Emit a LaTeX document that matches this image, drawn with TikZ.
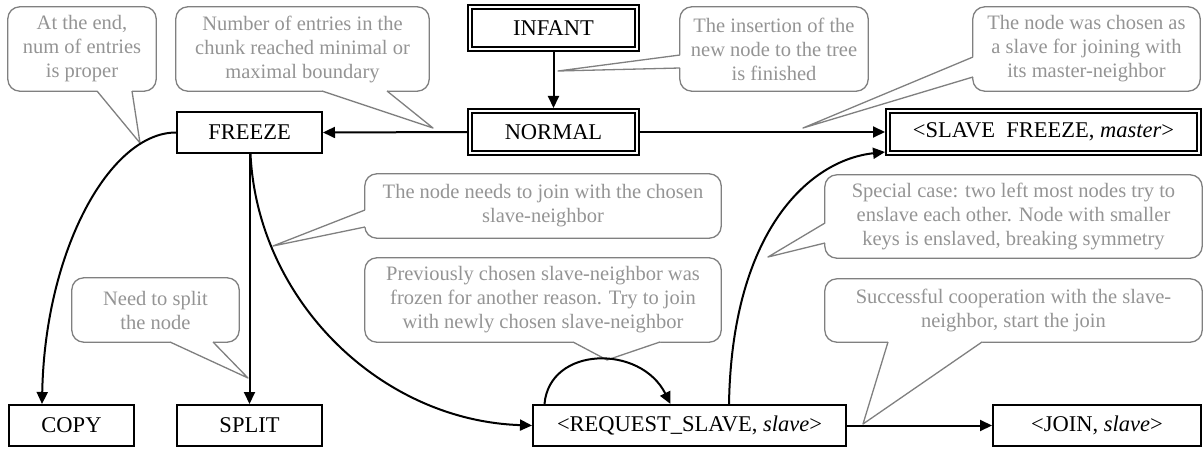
\documentclass[tikz,border=0pt]{standalone}
\usepackage{fontspec}
\setmainfont{Liberation Serif}
\usetikzlibrary{arrows.meta,calc}
\newcommand\wedgeptr[5]{%
  \fill[white] ($(#1)-(#4,#5)$) -- ($(#1)+(#4,#5)$) -- (#2) -- ($(#3)+(#4,#5)$) -- ($(#3)-(#4,#5)$) -- cycle;
  \draw[noteline] (#1) -- (#2) -- (#3);}
\begin{document}
\begin{tikzpicture}[x=1pt,y=-1pt,
  box/.style={draw, line width=2pt, inner sep=0pt, minimum height=41pt,
    font=\fontsize{22.5}{27}\selectfont},
  dbox/.style={box, double, double distance=2pt, line width=2pt, minimum height=42pt},
  arr/.style={-{Triangle[length=12pt,width=11pt]}, line width=2pt},
  note/.style={inner sep=0pt, text=black!42, align=center,
    font=\fontsize{20.5}{24}\selectfont},
  noteline/.style={draw=black!50, line width=1.3pt, line join=round},
  noterect/.style={noteline, rounded corners=12pt}]
\useasboundingbox (0,0) rectangle (1203,452);

% callouts
\node[note, minimum width=148pt, minimum height=84pt] (c1) at (82,49)
  {At the end,\\num of entries\\is proper};
\node[note, minimum width=253pt, minimum height=84pt] (c2) at (302.5,49)
  {Number of entries in the\\chunk reached minimal or\\maximal boundary};
\node[note, minimum width=188pt, minimum height=84pt] (c3) at (774,49)
  {The insertion of the\\new node to the tree\\is finished};
\node[note, minimum width=227pt, minimum height=84pt] (c4) at (1086.5,49)
  {The node was chosen as\\a slave for joining with\\its master-neighbor};
\node[note, minimum width=356pt, minimum height=64pt] (c5) at (543,206)
  {The node needs to join with the chosen\\slave-neighbor};
\node[note, minimum width=356pt, minimum height=84pt] (c6) at (543,300)
  {Previously chosen slave-neighbor was\\frozen for another reason. Try to join\\with newly chosen slave-neighbor};
\node[note, minimum width=167pt, minimum height=64pt] (c7) at (155.5,310)
  {Need to split\\the node};
\node[note, minimum width=377pt, minimum height=83pt] (c8) at (1013.5,216.5)
  {Special case: two left most nodes try to\\enslave each other. Node with smaller\\keys is enslaved, breaking symmetry};
\node[note, minimum width=377pt, minimum height=63pt] (c9) at (1013.5,310.5)
  {Successful cooperation with the slave-\\neighbor, start the join};

\foreach \c in {c1,c2,c3,c4,c5,c6,c7,c8,c9}
  \draw[noterect] (\c.north west) rectangle (\c.south east);

% pointer coordinates
\coordinate (a1) at (97,91);   \coordinate (t1) at (140,143); \coordinate (e1) at (132,91);
\coordinate (a2) at (322,91);  \coordinate (t2) at (433,128); \coordinate (e2) at (387,91);
\coordinate (a3) at (680,55);  \coordinate (t3) at (558,71);  \coordinate (e3) at (680,68);
\coordinate (a4) at (973,57);  \coordinate (t4) at (803,128); \coordinate (e4) at (973,77);
\coordinate (a5) at (365,210); \coordinate (t5) at (273,246); \coordinate (e5) at (365,227);
\coordinate (a6) at (573,342); \coordinate (t6) at (607,360); \coordinate (e6) at (660,342);
\coordinate (a7) at (170,342); \coordinate (t7) at (248,378); \coordinate (e7) at (213,342);
\coordinate (a8) at (825,223); \coordinate (t8) at (768,257); \coordinate (e8) at (825,243);
\coordinate (a9) at (888,342); \coordinate (t9) at (863,424); \coordinate (e9) at (982,342);

\wedgeptr{a1}{t1}{e1}{0}{2}
\wedgeptr{a2}{t2}{e2}{0}{2}
\wedgeptr{a3}{t3}{e3}{-2}{0}
\wedgeptr{a4}{t4}{e4}{-2}{0}
\wedgeptr{a5}{t5}{e5}{-2}{0}
\wedgeptr{a6}{t6}{e6}{0}{2}
\wedgeptr{a7}{t7}{e7}{0}{2}
\wedgeptr{a8}{t8}{e8}{-2}{0}
\wedgeptr{a9}{t9}{e9}{0}{2}

% state boxes
\node[dbox, minimum width=167pt] (infant) at (553.5,28) {INFANT};
\node[dbox, minimum width=167pt] (normal) at (553.5,132) {NORMAL};
\node[dbox, minimum width=311pt] (slavefreeze) at (1043.5,132) {<SLAVE\ \ FREEZE, \textit{master}>};
\node[box, minimum width=145pt] (freeze) at (249.5,132.5) {FREEZE};
\node[box, minimum width=125pt] (copy) at (71.5,425.5) {COPY};
\node[box, minimum width=145pt] (split) at (249.5,425.5) {SPLIT};
\node[box, minimum width=313pt] (request) at (689.5,425.5) {<REQUEST\_SLAVE, \textit{slave}>};
\node[box, minimum width=208pt] (join) at (1097,425.5) {<JOIN, \textit{slave}>};

% transitions
\draw[arr, shorten <=2pt, shorten >=2pt] (infant.south) -- (normal.north);
\draw[arr, shorten <=2pt] (normal.west) -- (freeze.east);
\draw[arr, shorten <=2pt, shorten >=2pt] (normal.east) -- (slavefreeze.west);
\draw[arr] (freeze.west) .. controls +(-66,0) and +(3,-154) .. ([xshift=-29.5pt]copy.north);
\draw[arr] (freeze.south) -- (split.north);
\draw[arr] ([xshift=1pt]freeze.south) .. controls +(7,146) and +(-152,-5) .. (request.west);
\draw[arr] ([xshift=-145pt]request.north) .. controls +(5,-58) and +(-30,-60) .. ([xshift=-19pt]request.north);
\draw[arr] ([xshift=39.5pt]request.north) .. controls +(3,-174) and +(-75,8) .. ([shift={(-2pt,2pt)}]slavefreeze.south west);
\draw[arr] (request.east) -- (join.west);
\end{tikzpicture}
\end{document}
